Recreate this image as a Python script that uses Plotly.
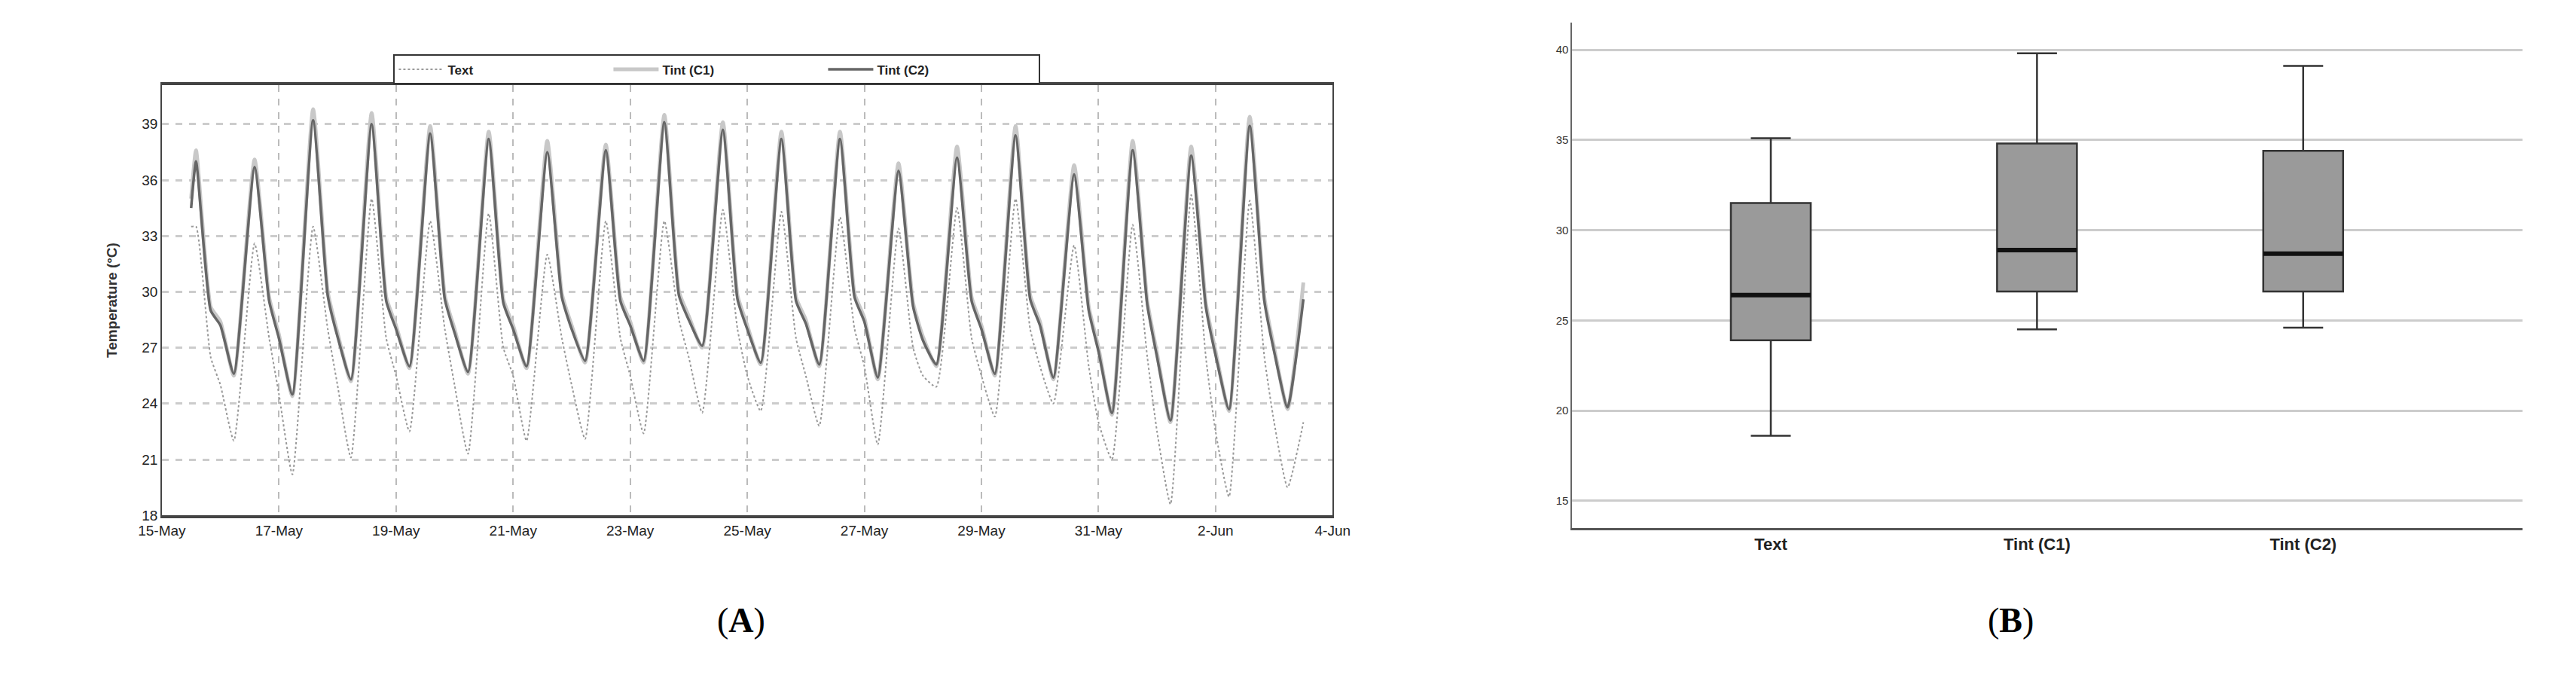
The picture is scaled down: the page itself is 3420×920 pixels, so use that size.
import plotly.graph_objects as go
import pandas as pd

# ---- Data ----
start = pd.Timestamp("2024-05-15")
c2_start = 34.5; c1_start = 35.0; text_start = 33.5
c2_peaks = [37.0, 36.7, 39.2, 39.0, 38.5, 38.2, 37.5, 37.6, 39.1, 38.7, 38.2, 38.2, 36.5, 37.2, 38.4, 36.3, 37.6, 37.3, 38.9]
c1_peaks = [37.6, 37.1, 39.8, 39.6, 38.9, 38.6, 38.1, 37.9, 39.5, 39.1, 38.6, 38.6, 36.9, 37.8, 38.9, 36.8, 38.1, 37.8, 39.4]
text_peaks = [33.5, 32.6, 33.5, 35.0, 33.8, 34.2, 32.0, 33.8, 33.8, 34.4, 34.3, 34.0, 33.4, 34.5, 35.0, 32.5, 33.6, 35.2, 34.9]
c2_eve = [29.0, 29.5, 29.8, 29.5, 29.6, 29.4, 29.7, 29.5, 29.8, 29.6, 29.5, 29.7, 29.2, 29.5, 29.6, 29.0, 29.3, 29.2, 29.5]
c1_eve = [29.2, 29.7, 30.0, 29.7, 29.8, 29.6, 29.9, 29.7, 30.0, 29.8, 29.7, 29.9, 29.4, 29.7, 29.8, 29.2, 29.5, 29.4, 29.7]
text_eve = [26.5, 27.5, 28.0, 27.5, 28.0, 27.0, 27.5, 27.5, 28.5, 28.0, 27.5, 28.0, 27.0, 27.5, 28.0, 26.0, 26.5, 26.5, 26.5]
c2_mid = [28.2, 27.5, 27.6, 28.0, 27.8, 28.0, 28.0, 28.2, 28.5, 28.0, 28.3, 28.4, 27.4, 28.0, 28.2, 26.8, 26.5, 26.6, 26.8]
c1_mid = [28.4, 27.7, 27.8, 28.2, 28.0, 28.2, 28.2, 28.4, 28.7, 28.2, 28.5, 28.6, 27.6, 28.2, 28.4, 27.0, 26.7, 26.8, 27.0]
text_mid = [25.0, 24.5, 25.0, 25.5, 25.0, 25.5, 25.0, 25.5, 26.5, 25.5, 25.5, 26.0, 25.5, 25.5, 26.0, 23.0, 22.5, 22.5, 23.0]
c2_mins = [25.6, 24.5, 25.3, 26.0, 25.7, 26.0, 26.3, 26.3, 27.1, 26.2, 26.1, 25.4, 26.1, 25.6, 25.4, 23.5, 23.1, 23.7, 23.8]
c1_mins = [25.5, 24.4, 25.2, 25.9, 25.6, 25.9, 26.2, 26.2, 27.0, 26.1, 26.0, 25.3, 26.0, 25.5, 25.3, 23.4, 23.0, 23.6, 23.7]
text_mins = [22.0, 20.2, 21.1, 22.5, 21.3, 22.0, 22.1, 22.4, 23.5, 23.6, 22.8, 21.8, 24.9, 23.3, 24.0, 21.0, 18.6, 19.0, 19.5]
c2_end = 29.6; c1_end = 30.5; text_end = 23.0

categories = ["Text", "Tint (C1)", "Tint (C2)"]
box_min = [18.6, 24.5, 24.6]
box_q1 = [23.9, 26.6, 26.6]
box_med = [26.4, 28.9, 28.7]
box_q3 = [31.5, 34.8, 34.4]
box_max = [35.1, 39.8, 39.1]

def build(s0, peaks, eve, mid, mins, end):
    t = [start + pd.Timedelta(hours=12)]; v = [s0]
    for d in range(len(peaks)):
        base = start + pd.Timedelta(days=d)
        t += [base + pd.Timedelta(hours=14), base + pd.Timedelta(hours=20), base + pd.Timedelta(hours=24), base + pd.Timedelta(hours=29.5)]
        v += [peaks[d], eve[d], mid[d], mins[d]]
    t.append(start + pd.Timedelta(days=19, hours=12)); v.append(end)
    return t, v

fig = go.Figure()
tt, vt = build(text_start, text_peaks, text_eve, text_mid, text_mins, text_end)
t1, v1 = build(c1_start, c1_peaks, c1_eve, c1_mid, c1_mins, c1_end)
t2, v2 = build(c2_start, c2_peaks, c2_eve, c2_mid, c2_mins, c2_end)
fig.add_trace(go.Scatter(x=tt, y=vt, name="<b>Text</b>", mode="lines", line=dict(color="#999999", width=2, dash="dot", shape="spline", smoothing=0.5)))
fig.add_trace(go.Scatter(x=t1, y=v1, name="<b>Tint (C1)</b>", mode="lines", line=dict(color="#c8c8c8", width=5, shape="spline", smoothing=0.5)))
fig.add_trace(go.Scatter(x=t2, y=v2, name="<b>Tint (C2)</b>", mode="lines", line=dict(color="#666666", width=3.5, shape="spline", smoothing=0.5)))

shapes = []
for i, c in enumerate(categories):
    fig.add_trace(go.Box(x=[c], q1=[box_q1[i]], median=[box_med[i]], q3=[box_q3[i]],
                         lowerfence=[box_min[i]], upperfence=[box_max[i]],
                         xaxis="x2", yaxis="y2", showlegend=False, fillcolor="#9a9a9a",
                         line=dict(color="#333333", width=2.5), width=0.3, whiskerwidth=0.5))
    shapes.append(dict(type="line", xref="x2", yref="y2", x0=i - 0.15, x1=i + 0.15,
                       y0=box_med[i], y1=box_med[i], line=dict(color="#111", width=6)))

fig.update_layout(
    width=3420, height=920, margin=dict(l=0, r=0, t=0, b=0, autoexpand=False),
    plot_bgcolor="white", paper_bgcolor="white", shapes=shapes,
    font=dict(family="Liberation Sans", color="#333333"),
    xaxis=dict(domain=[0.0605, 0.515], type="date", automargin=False,
               range=[start, start + pd.Timedelta(days=20)],
               tickvals=[start + pd.Timedelta(days=2 * k) for k in range(11)],
               tickformat="%-d-%b", tickfont=dict(size=19, color="#222"),
               showgrid=True, gridcolor="#bbbbbb", griddash="dash", gridwidth=1.5,
               showline=True, linecolor="#444", linewidth=4, mirror=True, ticks="", ticklen=0),
    yaxis=dict(domain=[0.265, 0.886], range=[18, 41.1], tickvals=[18, 21, 24, 27, 30, 33, 36, 39],
               tickfont=dict(size=19, color="#222"), automargin=False,
               showgrid=True, gridcolor="#cccccc", griddash="dash", gridwidth=3,
               showline=True, linecolor="#444", linewidth=1.5, mirror=True, zeroline=False,
               title=dict(text="<b>Temperature (°C)</b>", font=dict(size=19, color="#333"), standoff=28)),
    xaxis2=dict(domain=[0.608, 0.977], anchor="y2", tickfont=dict(size=22, color="#222"),
                range=[-0.746, 2.825], automargin=False,
                tickvals=categories, ticktext=["<b>%s</b>" % c for c in categories],
                showline=True, linecolor="#555", linewidth=2.5, showgrid=False, ticks=""),
    yaxis2=dict(domain=[0.247, 0.976], anchor="x2", range=[13.5, 41.5], tickvals=[15, 20, 25, 30, 35, 40],
                tickfont=dict(size=15, color="#333"), showgrid=True, gridcolor="#cccccc", gridwidth=3,
                showline=True, linecolor="#666", linewidth=2, zeroline=False, automargin=False),
    legend=dict(orientation="h", x=0.276, xanchor="center", y=0.93, yanchor="top",
                bgcolor="white", bordercolor="#333", borderwidth=2,
                font=dict(size=17, color="#222"), itemwidth=60, entrywidth=210),
    showlegend=True,
    annotations=[
        dict(text="(<b>A</b>)", x=942 / 3420, y=1 - 843 / 920, xref="paper", yref="paper", showarrow=False,
             font=dict(size=46, family="Liberation Serif", color="#000")),
        dict(text="(<b>B</b>)", x=2694 / 3420, y=1 - 843 / 920, xref="paper", yref="paper", showarrow=False,
             font=dict(size=46, family="Liberation Serif", color="#000")),
    ],
)
fig.write_html("out.html")
